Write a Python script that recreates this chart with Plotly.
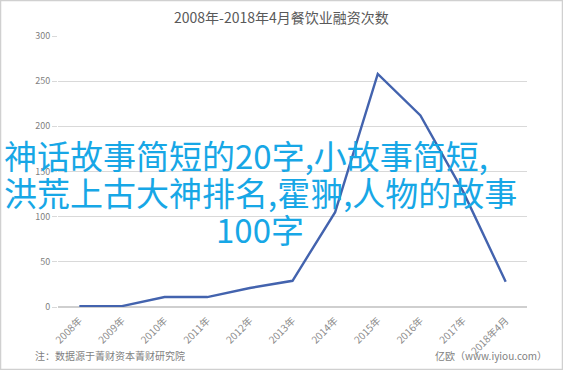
import plotly.graph_objects as go

years = ["2008年", "2009年", "2010年", "2011年", "2012年", "2013年",
         "2014年", "2015年", "2016年", "2017年", "2018年4月"]
counts = [1, 1, 11, 11, 21, 29, 105, 258, 212, 128, 28]
y_ticks = [0, 50, 100, 150, 200, 250, 300]

title_text = "2008年-2018年4月餐饮业融资次数"
overlay_lines = ["神话故事简短的20字,小故事简短,", "洪荒上古大神排名,霍翀,人物的故事", "100字"]
note_text = "注：数据源于菁财资本菁财研究院"
source_text = "亿欧（www.iyiou.com）"

W, H = 563, 370
L, R, T, B = 58, 36, 36, 63
pw, ph = W - L - R, H - T - B

def px(x):
    return (x - L) / pw

def py(y):
    return (H - B - y) / ph

FONT = "Noto Sans CJK SC, Noto Sans, sans-serif"

fig = go.Figure()
fig.add_trace(go.Scatter(
    x=years, y=counts, mode="lines",
    line=dict(color="#4363AE", width=2.4),
    hoverinfo="skip", showlegend=False,
))

annotations = [
    dict(text=title_text, x=px(281), y=py(17), xref="paper", yref="paper",
         showarrow=False, xanchor="center", yanchor="middle",
         font=dict(family=FONT, size=14, color="#595959")),
    dict(text=note_text, x=px(33), y=py(355), xref="paper", yref="paper",
         showarrow=False, xanchor="left", yanchor="middle",
         font=dict(family=FONT, size=10, color="#7f7f7f")),
    dict(text=source_text, x=px(549), y=py(355), xref="paper", yref="paper",
         showarrow=False, xanchor="right", yanchor="middle",
         font=dict(family=FONT, size=10, color="#7f7f7f")),
]
line_pos = [(2, 155, "left"), (2, 192, "left"), (260, 229, "center")]
for txt, (x, y, anc) in zip(overlay_lines, line_pos):
    annotations.append(dict(
        text=txt, x=px(x), y=py(y), xref="paper", yref="paper",
        showarrow=False, xanchor=anc, yanchor="middle",
        font=dict(family=FONT, size=33, color="#17A7E6")))

fig.update_layout(
    width=W, height=H,
    margin=dict(l=L, r=R, t=T, b=B, pad=0),
    paper_bgcolor="white", plot_bgcolor="white",
    xaxis=dict(type="category", showgrid=False, showline=False, zeroline=False,
               tickangle=-45, ticks="outside", ticklen=3, tickcolor="rgba(0,0,0,0)",
               tickfont=dict(family=FONT, size=10, color="#8a8a8a"),
               range=[-0.5, len(years) - 0.5], fixedrange=True),
    yaxis=dict(range=[0, 300], tickvals=y_ticks, showgrid=True, gridcolor="#d9d9d9",
               gridwidth=1, zeroline=True, zerolinecolor="#cfcfcf", showline=False,
               ticks="outside", ticklen=5, tickcolor="#d9d9d9",
               tickfont=dict(family=FONT, size=9, color="#7f7f7f"), fixedrange=True),
    annotations=annotations,
    shapes=[dict(type="rect", xref="paper", yref="paper",
                 x0=px(0.5), x1=px(W - 0.5), y0=py(H - 0.5), y1=py(0.5),
                 line=dict(color="#d0d0d0", width=1.5), fillcolor="rgba(0,0,0,0)", layer="below")],
)

fig.write_html("out.html", config={"displayModeBar": False, "staticPlot": True})

with open("out.html", encoding="utf-8") as f:
    html = f.read()
html = html.replace("<head>", "<head><style>html,body{margin:0;padding:0;overflow:hidden;}</style>", 1)
with open("out.html", "w", encoding="utf-8") as f:
    f.write(html)
